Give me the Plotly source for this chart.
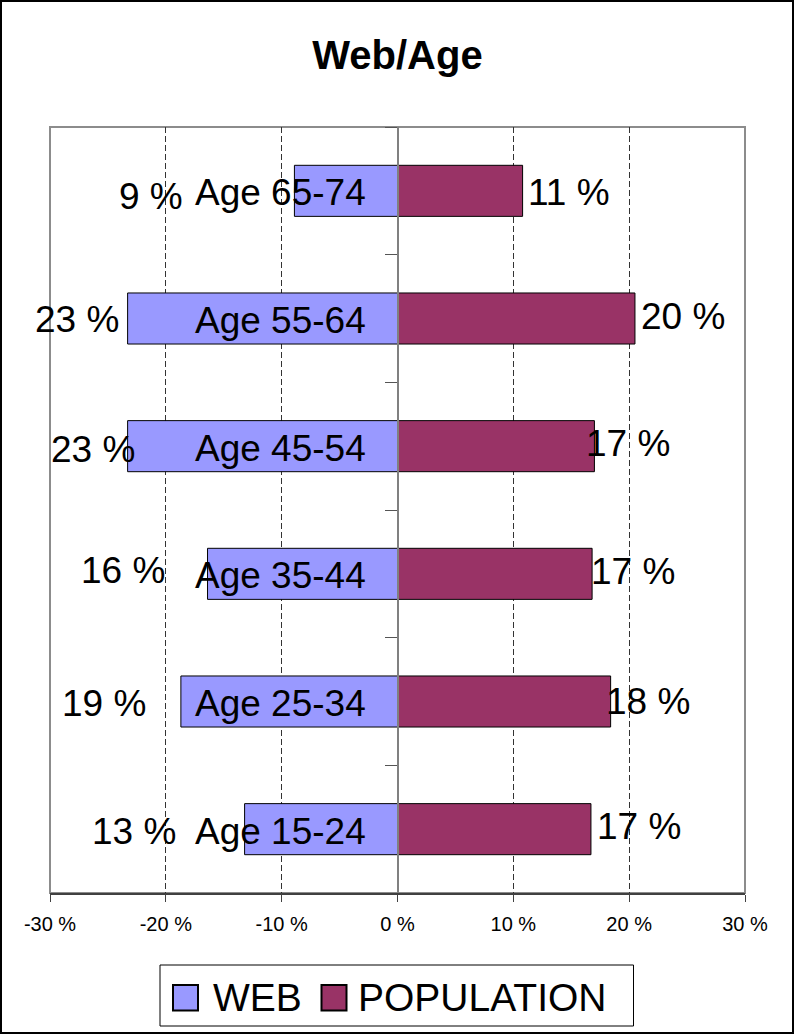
import plotly.graph_objects as go

# ---- data ----
categories = ["Age 65-74", "Age 55-64", "Age 45-54", "Age 35-44", "Age 25-34", "Age 15-24"]
web = [8.9, 23.3, 23.3, 16.4, 18.7, 13.2]
population = [10.8, 20.5, 17.0, 16.8, 18.4, 16.7]
web_labels = ["9 %", "23 %", "23 %", "16 %", "19 %", "13 %"]
pop_labels = ["11 %", "20 %", "17 %", "17 %", "18 %", "17 %"]
x_ticks = [-30, -20, -10, 0, 10, 20, 30]
x_ticktext = ["-30 %", "-20 %", "-10 %", "0 %", "10 %", "20 %", "30 %"]
series_names = ["WEB", "POPULATION"]

# ---- styles / label offsets (pixels) ----
WEB_COLOR = "#9999FF"
POP_COLOR = "#993366"
FONT = "Liberation Sans, Arial, sans-serif"
TEXT_DY = -2
web_label_dx = [-109, -7, 9, -41, -33, -67]
web_label_dy = [-4, 1, -1, 5, 0, 0]
pop_label_dx = [3, 4, -10, -3, -7, 4]
pop_label_dy = [0, 4, 5, 4, 2, 5]

W, H = 794, 1034
ML, MR, MT, MB = 50, 49, 127, 141
PW, PH = W - ML - MR, H - MT - MB


def px2x(px):
    return (px - ML) / PW


def py2y(py):
    return (H - MB - py) / PH


fig = go.Figure()
fig.add_trace(go.Bar(
    y=categories, x=[-v for v in web], orientation="h", name=series_names[0],
    marker=dict(color=WEB_COLOR, line=dict(color="black", width=1)),
    showlegend=False, hoverinfo="skip",
))
fig.add_trace(go.Bar(
    y=categories, x=population, orientation="h", name=series_names[1],
    marker=dict(color=POP_COLOR, line=dict(color="black", width=1)),
    showlegend=False, hoverinfo="skip",
))

annotations = []
for i, cat in enumerate(categories):
    annotations.append(dict(
        x=0, y=cat, xref="x", yref="y", text=cat, showarrow=False,
        xanchor="right", yanchor="middle", xshift=-30, yshift=TEXT_DY,
        font=dict(family=FONT, size=37, color="black"),
    ))
    annotations.append(dict(
        x=-web[i], y=cat, xref="x", yref="y", text=web_labels[i], showarrow=False,
        xanchor="right", yanchor="middle", xshift=web_label_dx[i],
        yshift=web_label_dy[i] + TEXT_DY,
        font=dict(family=FONT, size=37, color="black"),
    ))
    annotations.append(dict(
        x=population[i], y=cat, xref="x", yref="y", text=pop_labels[i], showarrow=False,
        xanchor="left", yanchor="middle", xshift=pop_label_dx[i],
        yshift=pop_label_dy[i] + TEXT_DY,
        font=dict(family=FONT, size=37, color="black"),
    ))

# manual legend text
annotations.append(dict(
    x=px2x(211), y=py2y(997), xref="paper", yref="paper", text=series_names[0],
    showarrow=False, xanchor="left", yanchor="middle",
    font=dict(family=FONT, size=39, color="black"),
))
annotations.append(dict(
    x=px2x(356), y=py2y(997), xref="paper", yref="paper", text=series_names[1],
    showarrow=False, xanchor="left", yanchor="middle",
    font=dict(family=FONT, size=39, color="black"),
))

shapes = [
    # outer chart border
    dict(type="rect", xref="paper", yref="paper",
         x0=px2x(1), x1=px2x(W - 1), y0=py2y(H - 1), y1=py2y(1),
         line=dict(color="black", width=2), layer="above"),
    # plot-area border
    dict(type="rect", xref="paper", yref="paper", x0=0, x1=1, y0=0, y1=1,
         line=dict(color="#8c8c8c", width=2), layer="below"),
    # legend box
    dict(type="rect", xref="paper", yref="paper",
         x0=px2x(160), x1=px2x(633.5), y0=py2y(1026), y1=py2y(965),
         line=dict(color="black", width=1), fillcolor="white", layer="above"),
    # legend swatches
    dict(type="rect", xref="paper", yref="paper",
         x0=px2x(173), x1=px2x(198), y0=py2y(1010.5), y1=py2y(985),
         line=dict(color="black", width=2), fillcolor=WEB_COLOR, layer="above"),
    dict(type="rect", xref="paper", yref="paper",
         x0=px2x(321.5), x1=px2x(346.5), y0=py2y(1010.5), y1=py2y(985),
         line=dict(color="black", width=2), fillcolor=POP_COLOR, layer="above"),
]

fig.update_layout(
    width=W, height=H,
    margin=dict(l=ML, r=MR, t=MT, b=MB),
    paper_bgcolor="white", plot_bgcolor="white",
    barmode="relative", bargap=0.6,
    title=dict(text="<b>Web/Age</b>", x=0.5, xref="paper", xanchor="center",
               y=1 - 55 / H, yref="container", yanchor="middle",
               font=dict(family=FONT, size=40, color="black")),
    xaxis=dict(
        range=[-30, 30], tickvals=x_ticks, ticktext=x_ticktext,
        ticks="outside", ticklen=7, tickcolor="#404040", tickwidth=1,
        showline=True, linecolor="#404040", linewidth=2,
        showgrid=True, gridcolor="#333333", gridwidth=1, griddash="6px,3px",
        zeroline=False, ticklabelstandoff=5,
        tickfont=dict(family=FONT, size=20, color="black"),
        fixedrange=True,
    ),
    yaxis=dict(
        type="category", autorange="reversed",
        anchor="free", position=0.5,
        showline=True, linecolor="#808080", linewidth=2,
        ticks="outside", ticklen=12, tickcolor="#555555", tickwidth=1,
        tickson="boundaries", showticklabels=False,
        showgrid=False, zeroline=False, fixedrange=True,
    ),
    annotations=annotations,
    shapes=shapes,
    showlegend=False,
)

fig.write_html(
    "out.html",
    config={"displayModeBar": False, "staticPlot": True},
    post_script="document.body.style.margin='0';document.body.style.overflow='hidden';",
)
